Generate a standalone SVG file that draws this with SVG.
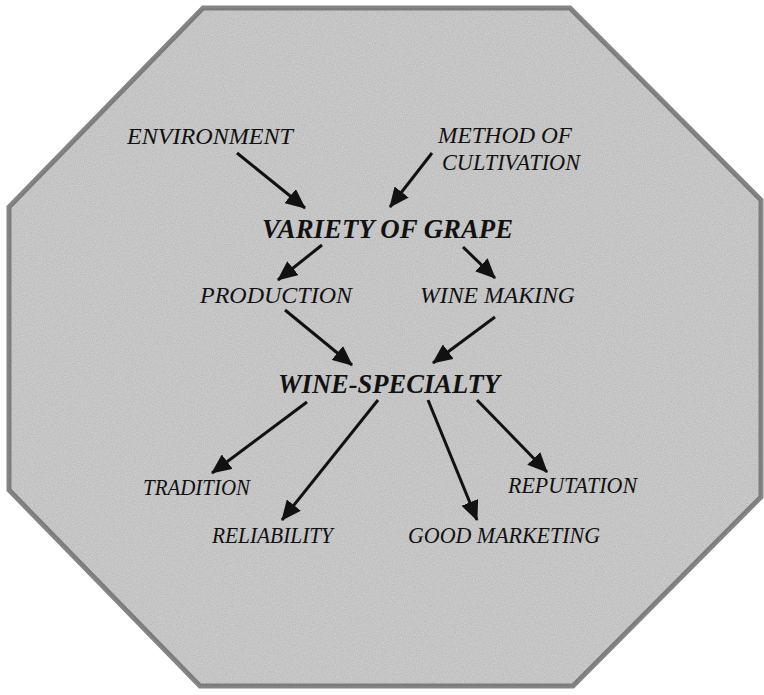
<svg xmlns="http://www.w3.org/2000/svg" width="764" height="695" viewBox="0 0 764 695">
<style>
.lbl{font-family:"Liberation Serif","Times New Roman",serif;font-style:italic;font-size:23px;fill:#111}
.main{font-family:"Liberation Serif","Times New Roman",serif;font-style:italic;font-weight:bold;font-size:27px;fill:#111}
.con line{stroke:#111;stroke-width:3;marker-end:url(#ah)}
</style>
<defs>
<marker id="ah" viewBox="0 0 20 18" refX="19" refY="9" markerWidth="20" markerHeight="18" markerUnits="userSpaceOnUse" orient="auto">
<path d="M0,0 L20,9 L0,18 z" fill="#111"/>
</marker>
<filter id="grain" x="0" y="0" width="100%" height="100%">
<feTurbulence type="fractalNoise" baseFrequency="0.9" numOctaves="2" seed="3" result="n"/>
<feColorMatrix in="n" type="matrix" values="0 0 0 0 0  0 0 0 0 0  0 0 0 0 0  0 0 0 -1.2 1.1" result="a"/>
<feComposite in="a" in2="SourceGraphic" operator="in"/>
</filter>
</defs>
<g id="background">
<polygon points="203,8 570,8 761,200 761,497 573,686 200,686 9,490 9,207" fill="#d2d2d2" stroke="#858585" stroke-width="5"/>
<polygon points="203,8 570,8 761,200 761,497 573,686 200,686 9,490 9,207" fill="#000" opacity="0.12" filter="url(#grain)"/>
</g>
<g id="connectors" class="con">
<line x1="237" y1="153" x2="305" y2="208"/>
<line x1="432" y1="153" x2="390" y2="207"/>
<line x1="322" y1="245" x2="278" y2="280"/>
<line x1="463" y1="247" x2="495" y2="278"/>
<line x1="285" y1="310" x2="352" y2="365"/>
<line x1="495" y1="317" x2="433" y2="363"/>
<line x1="307" y1="402" x2="212" y2="473"/>
<line x1="378" y1="400" x2="282" y2="520"/>
<line x1="428" y1="400" x2="477" y2="520"/>
<line x1="477" y1="400" x2="547" y2="472"/>
</g>
<g id="environment"><text class="lbl" x="127" y="144" textLength="166" lengthAdjust="spacingAndGlyphs">ENVIRONMENT</text></g>
<g id="method"><text class="lbl" x="438" y="143" textLength="134" lengthAdjust="spacingAndGlyphs">METHOD OF</text><text class="lbl" x="442" y="170" textLength="138" lengthAdjust="spacingAndGlyphs">CULTIVATION</text></g>
<g id="variety"><text class="main" x="262" y="238" textLength="251" lengthAdjust="spacingAndGlyphs">VARIETY OF GRAPE</text></g>
<g id="production"><text class="lbl" x="200" y="303" textLength="152" lengthAdjust="spacingAndGlyphs">PRODUCTION</text></g>
<g id="winemaking"><text class="lbl" x="420" y="303" textLength="155" lengthAdjust="spacingAndGlyphs">WINE MAKING</text></g>
<g id="specialty"><text class="main" x="278" y="393" textLength="222" lengthAdjust="spacingAndGlyphs">WINE-SPECIALTY</text></g>
<g id="tradition"><text class="lbl" x="143" y="495" textLength="107" lengthAdjust="spacingAndGlyphs">TRADITION</text></g>
<g id="reliability"><text class="lbl" x="212" y="543" textLength="121" lengthAdjust="spacingAndGlyphs">RELIABILITY</text></g>
<g id="marketing"><text class="lbl" x="408" y="543" textLength="192" lengthAdjust="spacingAndGlyphs">GOOD  MARKETING</text></g>
<g id="reputation"><text class="lbl" x="508" y="493" textLength="129" lengthAdjust="spacingAndGlyphs">REPUTATION</text></g>
</svg>
